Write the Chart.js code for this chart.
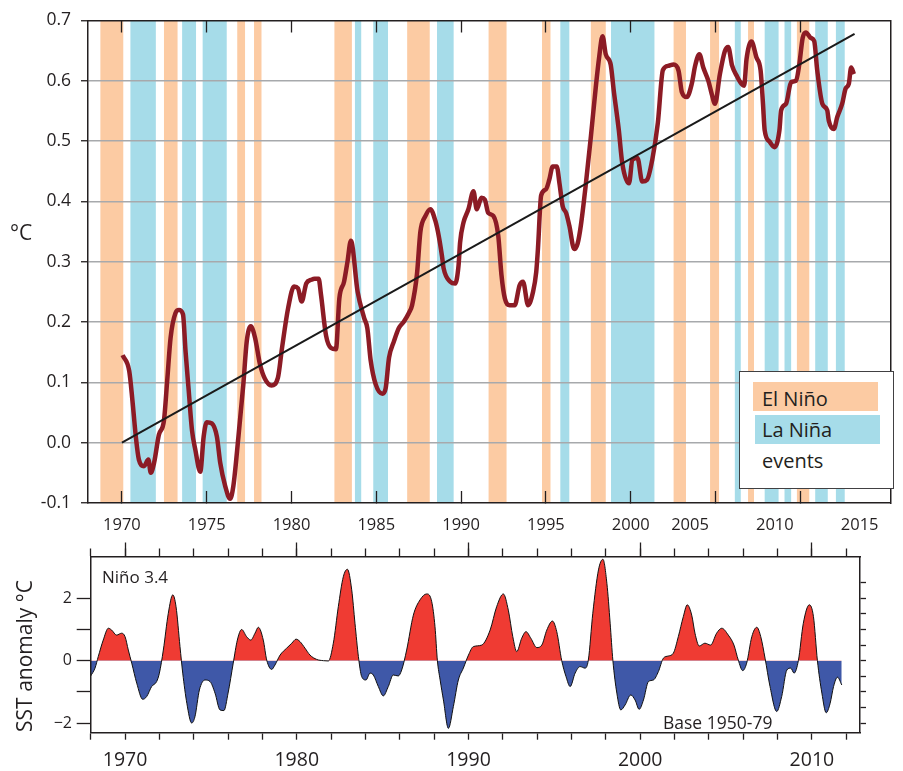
<!DOCTYPE html>
<html>
<head>
<meta charset="utf-8">
<script src="https://cdn.jsdelivr.net/npm/chart.js@4.4.1/dist/chart.umd.min.js"></script>
<style>
  body { margin: 0; background: #fff; font-family: 'Open Sans', sans-serif; color: #231f20; }
  #wrap { position: relative; width: 903px; height: 771px; overflow: hidden; }
  canvas { position: absolute; left: 0; }
  #topChart { top: 0; }
  #bottomChart { top: 540px; }
  .txt { position: absolute; white-space: nowrap; }
  .box { position: absolute; }
</style>
</head>
<body>
<div id="wrap">
  <canvas id="topChart" width="903" height="540"></canvas>
  <canvas id="bottomChart" width="903" height="231"></canvas>

  <div class="txt" style="left:10px; top:222px; font-size:21px; line-height:21px;">°C</div>

  <div class="box" style="left:739px; top:371px; width:155px; height:118px; border:1.5px solid #414042; background:#fff; box-sizing:border-box;"></div>
  <div class="box" style="left:753px; top:382px; width:125px; height:29px; background:#fccba3;"></div>
  <div class="box" style="left:755px; top:415px; width:125px; height:29px; background:#a6dce9;"></div>
  <div class="txt" style="left:762px; top:389px; font-size:20px; line-height:20px;">El Niño</div>
  <div class="txt" style="left:762px; top:420px; font-size:20px; line-height:20px;">La Niña</div>
  <div class="txt" style="left:762px; top:451px; font-size:20px; line-height:20px;">events</div>

  <div class="txt" style="left:102px; top:568px; font-size:17px; line-height:17px;">Niño 3.4</div>
  <div class="txt" style="left:663px; top:714px; font-size:17.5px; line-height:17.5px;">Base 1950-79</div>
  <div class="txt" style="left:24px; top:656px; font-size:21px; line-height:21px; transform:translate(-50%,-50%) rotate(-90deg);">SST anomaly °C</div>
</div>

<script>
// global temperature, 12-month mean (°C)
const tempYears = [
  1970.04, 1970.43, 1970.62, 1970.82, 1971.0, 1971.3, 1971.56, 1971.7, 1971.9, 1972.18,
  1972.48, 1972.67, 1972.87, 1973.16, 1973.36, 1973.6, 1973.75, 1973.94, 1974.13, 1974.33,
  1974.62, 1974.82, 1975.0, 1975.3, 1975.6, 1975.8, 1976.09, 1976.38, 1976.57, 1976.87,
  1977.16, 1977.36, 1977.6, 1977.85, 1978.14, 1978.43, 1978.82, 1979.2, 1979.44, 1979.8,
  1980.15, 1980.38, 1980.6, 1980.87, 1981.16, 1981.36, 1981.6, 1981.74, 1982.04, 1982.33,
  1982.62, 1982.82, 1983.1, 1983.3, 1983.5, 1983.9, 1984.28, 1984.47, 1984.67, 1984.96,
  1985.36, 1985.55, 1985.75, 1986.04, 1986.33, 1986.63, 1986.92, 1987.11, 1987.4, 1987.6,
  1987.9, 1988.19, 1988.48, 1988.68, 1988.87, 1988.97, 1989.36, 1989.65, 1989.85, 1989.94,
  1990.14, 1990.43, 1990.73, 1990.92, 1991.2, 1991.4, 1991.6, 1991.9, 1992.19, 1992.38,
  1992.58, 1992.87, 1993.16, 1993.45, 1993.65, 1993.95, 1994.24, 1994.43, 1994.53, 1994.72,
  1995.0, 1995.2, 1995.4, 1995.64, 1995.8, 1995.99, 1996.19, 1996.38, 1996.67, 1996.87,
  1997.06, 1997.36, 1997.65, 1997.94, 1998.14, 1998.34, 1998.53, 1998.82, 1999.0, 1999.3,
  1999.5, 1999.9, 2000.1, 2000.4, 2000.68, 2000.97, 2001.27, 2001.6, 2001.9, 2002.24,
  2002.53, 2002.82, 2003.02, 2003.31, 2003.6, 2003.8, 2004.05, 2004.28, 2004.58, 2004.78,
  2004.97, 2005.26, 2005.55, 2005.75, 2005.98, 2006.24, 2006.53, 2006.69, 2006.83, 2007.12,
  2007.41, 2007.66, 2007.8, 2007.9, 2008.19, 2008.48, 2008.77, 2008.87, 2009.16, 2009.46,
  2009.75, 2009.94, 2010.14, 2010.33, 2010.62, 2010.82, 2011.0, 2011.3, 2011.59, 2011.68,
  2011.98, 2012.18, 2012.47, 2012.67, 2012.86, 2013.0, 2013.16
];
const tempValues = [
  0.145, 0.119, 0.070, 0.010, -0.028, -0.039, -0.028, -0.050, -0.033, 0.013,
  0.037, 0.103, 0.174, 0.215, 0.220, 0.213, 0.152, 0.086, 0.021, -0.012,
  -0.048, 0.010, 0.034, 0.032, 0.010, -0.034, -0.072, -0.093, -0.072, 0.010,
  0.097, 0.168, 0.193, 0.174, 0.130, 0.106, 0.095, 0.108, 0.157, 0.223,
  0.259, 0.256, 0.234, 0.264, 0.270, 0.272, 0.272, 0.245, 0.177, 0.157,
  0.155, 0.239, 0.267, 0.300, 0.335, 0.250, 0.207, 0.190, 0.136, 0.097,
  0.081, 0.090, 0.141, 0.168, 0.190, 0.201, 0.215, 0.228, 0.280, 0.350,
  0.376, 0.387, 0.368, 0.343, 0.310, 0.289, 0.267, 0.264, 0.294, 0.332,
  0.365, 0.387, 0.417, 0.387, 0.406, 0.403, 0.381, 0.376, 0.343, 0.278,
  0.239, 0.228, 0.228, 0.261, 0.267, 0.228, 0.250, 0.283, 0.321, 0.410,
  0.420, 0.436, 0.458, 0.458, 0.430, 0.392, 0.381, 0.360, 0.321, 0.330,
  0.360, 0.430, 0.507, 0.589, 0.639, 0.674, 0.644, 0.627, 0.584, 0.518,
  0.464, 0.430, 0.469, 0.472, 0.433, 0.436, 0.469, 0.530, 0.618, 0.625,
  0.627, 0.617, 0.581, 0.573, 0.595, 0.625, 0.644, 0.622, 0.600, 0.578,
  0.562, 0.611, 0.649, 0.656, 0.625, 0.609, 0.595, 0.592, 0.636, 0.665,
  0.639, 0.617, 0.562, 0.518, 0.499, 0.490, 0.518, 0.551, 0.562, 0.598,
  0.600, 0.627, 0.671, 0.680, 0.671, 0.666, 0.617, 0.562, 0.551, 0.534,
  0.520, 0.540, 0.562, 0.587, 0.595, 0.622, 0.611
];

// linear trend end points
const trendYears = [1970.0, 2013.2];
const trendValues = [0.0, 0.678];

// ENSO event periods (decimal years)
const elNinoStart = [1968.73, 1972.48, 1976.80, 1977.79, 1982.53, 1986.82, 1991.62, 1994.77, 1997.65, 2002.53, 2004.68, 2006.92, 2009.80];
const elNinoEnd   = [1970.08, 1973.28, 1977.26, 1978.23, 1983.56, 1988.15, 1992.68, 1995.27, 1998.53, 2003.26, 2005.21, 2007.27, 2010.53];
const laNinaStart = [1970.50, 1973.55, 1974.76, 1983.74, 1984.82, 1988.58, 1995.85, 1998.84, 2006.14, 2007.90, 2009.07, 2010.88, 2012.10];
const laNinaEnd   = [1972.00, 1974.37, 1976.18, 1984.11, 1985.69, 1989.56, 1996.38, 2001.40, 2006.49, 2008.72, 2009.46, 2011.62, 2012.62];

// top panel axes
const tempTicks = [-0.1, 0.0, 0.1, 0.2, 0.3, 0.4, 0.5, 0.6, 0.7];
const tickYears = [1970, 1975, 1980, 1985, 1990, 1995, 2000, 2005, 2010];
const tickLabels = ['1970', '1975', '1980', '1985', '1990', '1995', '2000', '2005', '2010', '2015'];
// where the reference prints each label (the last three sit left of their ticks)
const labelYears = [1970, 1975, 1980, 1985, 1990, 1995, 2000, 2003.5, 2008.5, 2013.5];

// Nino 3.4 SST anomaly (°C)
const ninoYears = [
  1968.0, 1968.25, 1968.44, 1968.73, 1969.03, 1969.22, 1969.51, 1969.8, 1970.0, 1970.19,
  1970.39, 1970.68, 1971.03, 1971.26, 1971.55, 1971.84, 1972.0, 1972.23, 1972.52, 1972.78,
  1972.97, 1973.2, 1973.36, 1973.6, 1973.88, 1974.07, 1974.33, 1974.66, 1974.95, 1975.24,
  1975.53, 1975.76, 1976.0, 1976.3, 1976.54, 1976.79, 1977.08, 1977.32, 1977.57, 1977.76,
  1978.05, 1978.25, 1978.54, 1978.73, 1979.03, 1979.41, 1979.71, 1979.96, 1980.19, 1980.48,
  1980.77, 1981.16, 1981.55, 1981.84, 1982.13, 1982.42, 1982.71, 1982.95, 1983.2, 1983.39,
  1983.59, 1983.78, 1984.03, 1984.27, 1984.46, 1984.75, 1985.04, 1985.33, 1985.62, 1985.91,
  1986.11, 1986.4, 1986.79, 1987.18, 1987.57, 1987.86, 1988.05, 1988.19, 1988.35, 1988.54,
  1988.83, 1989.12, 1989.41, 1989.7, 1990.0, 1990.28, 1990.77, 1991.26, 1991.64, 1992.03,
  1992.32, 1992.58, 1992.81, 1993.1, 1993.35, 1993.63, 1993.98, 1994.27, 1994.56, 1994.89,
  1995.14, 1995.43, 1995.68, 1995.92, 1996.21, 1996.5, 1996.79, 1996.98, 1997.24, 1997.57,
  1997.83, 1998.06, 1998.25, 1998.41, 1998.64, 1998.87, 1999.12, 1999.45, 1999.7, 1999.94,
  2000.19, 2000.48, 2000.77, 2001.06, 2001.35, 2001.64, 2001.93, 2002.22, 2002.51, 2002.74,
  2003.0, 2003.19, 2003.44, 2003.77, 2004.1, 2004.45, 2004.75, 2005.13, 2005.46, 2005.71,
  2005.97, 2006.2, 2006.5, 2006.79, 2007.02, 2007.27, 2007.56, 2007.95, 2008.24, 2008.54,
  2008.77, 2008.96, 2009.21, 2009.5, 2009.85, 2010.09, 2010.32, 2010.58, 2010.83, 2011.06,
  2011.26, 2011.49, 2011.74
];
const ninoValues = [
  -0.49, -0.24, 0.13, 0.66, 1.04, 0.98, 0.82, 0.88, 0.77, 0.34,
  -0.08, -0.72, -1.24, -1.15, -0.83, -0.67, -0.40, 0.34, 1.52, 2.11,
  1.73, 0.45, -0.40, -1.37, -2.00, -1.80, -0.94, -0.62, -0.67, -1.04,
  -1.58, -1.60, -1.04, -0.08, 0.66, 1.00, 0.77, 0.66, 0.88, 1.07,
  0.66, 0.02, -0.28, -0.14, 0.18, 0.40, 0.56, 0.69, 0.61, 0.40,
  0.18, 0.04, 0.00, -0.01, 0.56, 1.73, 2.69, 2.93, 2.27, 1.20,
  0.13, -0.51, -0.62, -0.40, -0.46, -0.83, -1.13, -0.83, -0.46, -0.49,
  -0.30, 0.34, 1.46, 1.95, 2.14, 1.89, 1.09, 0.00, -0.62, -1.26,
  -2.17, -1.47, -0.62, -0.24, 0.18, 0.45, 0.50, 0.98, 1.73, 2.14,
  1.62, 0.77, 0.29, 0.72, 0.93, 0.72, 0.42, 0.50, 0.98, 1.27,
  0.93, 0.00, -0.51, -0.83, -0.40, -0.19, -0.24, 0.02, 1.52, 2.91,
  3.25, 2.48, 1.20, 0.00, -1.04, -1.58, -1.42, -1.10, -1.26, -1.56,
  -1.26, -0.67, -0.62, -0.35, 0.08, 0.15, 0.24, 0.77, 1.41, 1.79,
  1.46, 0.88, 0.47, 0.56, 0.50, 0.88, 1.04, 0.82, 0.50, 0.02,
  -0.32, -0.08, 0.77, 1.07, 0.77, 0.08, -0.83, -1.63, -1.15, -0.30,
  -0.24, -0.40, 0.00, 1.20, 1.79, 1.41, 0.00, -1.04, -1.67, -1.37,
  -0.83, -0.53, -0.78
];

// bottom panel axes
const sstTicks = [-2, -1.5, -1, -0.5, 0, 0.5, 1, 1.5, 2, 2.5];
const sstLabelValues = [-2, 0, 2];
const ninoTickYears = [1968, 1970, 1972, 1974, 1976, 1978, 1980, 1982, 1984, 1986, 1988, 1990,
  1992, 1994, 1996, 1998, 2000, 2002, 2004, 2006, 2008, 2010, 2012];
const ninoLabelYears = [1970, 1980, 1990, 2000, 2010];

const frame = '#231f20';
const fontFamily = "'Open Sans', sans-serif";
Chart.defaults.font.family = fontFamily;
Chart.defaults.color = frame;

const toPoints = (xs, ys) => xs.map((x, i) => ({x: x, y: ys[i]}));
const setTicks = values => scale => { scale.ticks = values.map(v => ({value: v})); };

const bandPlugin = {
    id: 'ensoBands',
    beforeDraw: function (chart) {
        const ctx = chart.ctx;
        const area = chart.chartArea;
        const x = chart.scales.x;
        const fillBands = function (starts, ends, color) {
            ctx.fillStyle = color;
            starts.forEach(function (s, i) {
                const x0 = x.getPixelForValue(s);
                const x1 = x.getPixelForValue(ends[i]);
                ctx.fillRect(x0, area.top, x1 - x0, area.bottom - area.top);
            });
        };
        ctx.save();
        fillBands(elNinoStart, elNinoEnd, '#fccba3');
        fillBands(laNinaStart, laNinaEnd, '#a6dce9');
        ctx.restore();
    }
};

const xTopMin = 1968, xTopMax = 2015.31;
const allXTicks = [...new Set([...tickYears, ...labelYears])].sort((a, b) => a - b);

new Chart(document.getElementById('topChart'), {
    type: 'line',
    data: {
        datasets: [
            {
                label: 'Trend',
                data: toPoints(trendYears, trendValues),
                borderColor: '#1a1a1a',
                borderWidth: 2,
                pointRadius: 0,
                order: 0
            },
            {
                label: 'Global temperature',
                data: toPoints(tempYears, tempValues),
                borderColor: '#8c1b25',
                borderWidth: 4.5,
                pointRadius: 0,
                cubicInterpolationMode: 'monotone',
                order: 1
            }
        ]
    },
    options: {
        responsive: false,
        animation: false,
        layout: { padding: { top: 15, right: 7, left: 0, bottom: 0 } },
        plugins: { legend: { display: false }, tooltip: { enabled: false } },
        scales: {
            x: {
                type: 'linear', position: 'bottom', min: xTopMin, max: xTopMax,
                afterBuildTicks: setTicks(allXTicks),
                afterFit: function (s) { s.height = 37; },
                grid: {
                    drawOnChartArea: false, tickLength: -12, tickWidth: 1.3,
                    tickColor: c => (c.tick && tickYears.includes(c.tick.value)) ? frame : 'rgba(0,0,0,0)'
                },
                border: { display: true, color: frame, width: 1.5, z: 1 },
                ticks: {
                    autoSkip: false, maxRotation: 0, padding: 24, color: frame,
                    font: { size: 16.5 },
                    callback: function (v) {
                        const i = labelYears.indexOf(v);
                        return i < 0 ? '' : tickLabels[i];
                    }
                }
            },
            xt: {
                type: 'linear', position: 'top', min: xTopMin, max: xTopMax,
                afterBuildTicks: setTicks(tickYears),
                afterFit: function (s) { s.height = 0; },
                grid: { drawOnChartArea: false, tickLength: -12, tickWidth: 1.3, tickColor: frame },
                border: { display: true, color: frame, width: 1.5, z: 1 },
                ticks: { display: false }
            },
            y: {
                type: 'linear', position: 'left', min: -0.1, max: 0.7,
                afterBuildTicks: setTicks(tempTicks),
                afterFit: function (s) { s.width = 88; },
                grid: {
                    color: c => (c.index === 0 || c.index === tempTicks.length - 1) ? 'rgba(0,0,0,0)' : '#a7a9ac',
                    lineWidth: 1.5, tickLength: 7, tickColor: frame, tickWidth: 1.3
                },
                border: { display: true, color: frame, width: 1.5, z: 1 },
                ticks: { padding: 10, color: frame, font: { size: 17.5 }, callback: v => v.toFixed(1) }
            },
            yr: {
                type: 'linear', position: 'right', min: -0.1, max: 0.7,
                afterFit: function (s) { s.width = 0; },
                grid: { drawOnChartArea: false, drawTicks: false },
                border: { display: true, color: frame, width: 1.5, z: 1 },
                ticks: { display: false }
            }
        }
    },
    plugins: [bandPlugin]
});

const xBotMin = 1968, xBotMax = 2012.8;
const yBotMin = -2.31, yBotMax = 3.34;

new Chart(document.getElementById('bottomChart'), {
    type: 'line',
    data: {
        datasets: [
            {
                label: 'Niño 3.4',
                data: toPoints(ninoYears, ninoValues),
                borderColor: '#111111',
                borderWidth: 1,
                pointRadius: 0,
                cubicInterpolationMode: 'monotone',
                fill: { target: { value: 0 }, above: '#ef3b33', below: '#3f58a8' }
            }
        ]
    },
    options: {
        responsive: false,
        animation: false,
        layout: { padding: { top: 16.5, right: 43, left: 0, bottom: 0 } },
        plugins: { legend: { display: false }, tooltip: { enabled: false } },
        scales: {
            x: {
                type: 'linear', position: 'bottom', min: xBotMin, max: xBotMax,
                afterBuildTicks: setTicks(ninoTickYears),
                afterFit: function (s) { s.height = 38.3; },
                grid: { drawOnChartArea: false, tickLength: 7, tickWidth: 1.3, tickColor: frame },
                border: { display: true, color: frame, width: 1.5, z: 1 },
                ticks: {
                    autoSkip: false, maxRotation: 0, padding: 9, color: frame,
                    font: { size: 19.5 },
                    callback: v => ninoLabelYears.includes(v) ? String(v) : ''
                }
            },
            xt: {
                type: 'linear', position: 'top', min: xBotMin, max: xBotMax,
                afterBuildTicks: setTicks(ninoTickYears),
                afterFit: function (s) { s.height = 0; },
                grid: { drawOnChartArea: false, tickLength: 8, tickWidth: 1.3, tickColor: frame },
                border: { display: true, color: frame, width: 1.5, z: 1 },
                ticks: { display: false }
            },
            xt2: {
                type: 'linear', position: 'top', min: xBotMin, max: xBotMax,
                afterBuildTicks: setTicks(ninoLabelYears),
                afterFit: function (s) { s.height = 0; },
                grid: { drawOnChartArea: false, tickLength: 14, tickWidth: 1.3, tickColor: frame },
                border: { display: false },
                ticks: { display: false }
            },
            y: {
                type: 'linear', position: 'left', min: yBotMin, max: yBotMax,
                afterBuildTicks: setTicks(sstTicks),
                afterFit: function (s) { s.width = 90.7; },
                grid: { drawOnChartArea: false, tickLength: 14, tickWidth: 1.3, tickColor: frame },
                border: { display: true, color: frame, width: 1.5, z: 1 },
                ticks: {
                    padding: 4.7, color: frame, font: { size: 16 },
                    callback: v => sstLabelValues.includes(v) ? (v < 0 ? '\u2212' + Math.abs(v) : String(v)) : ''
                }
            },
            yr: {
                type: 'linear', position: 'right', min: yBotMin, max: yBotMax,
                afterBuildTicks: setTicks(sstTicks),
                afterFit: function (s) { s.width = 0; },
                grid: { drawOnChartArea: false, tickLength: 6, tickWidth: 1.3, tickColor: frame },
                border: { display: true, color: frame, width: 1.5, z: 1 },
                ticks: { display: false }
            }
        }
    }
});
</script>
</body>
</html>
